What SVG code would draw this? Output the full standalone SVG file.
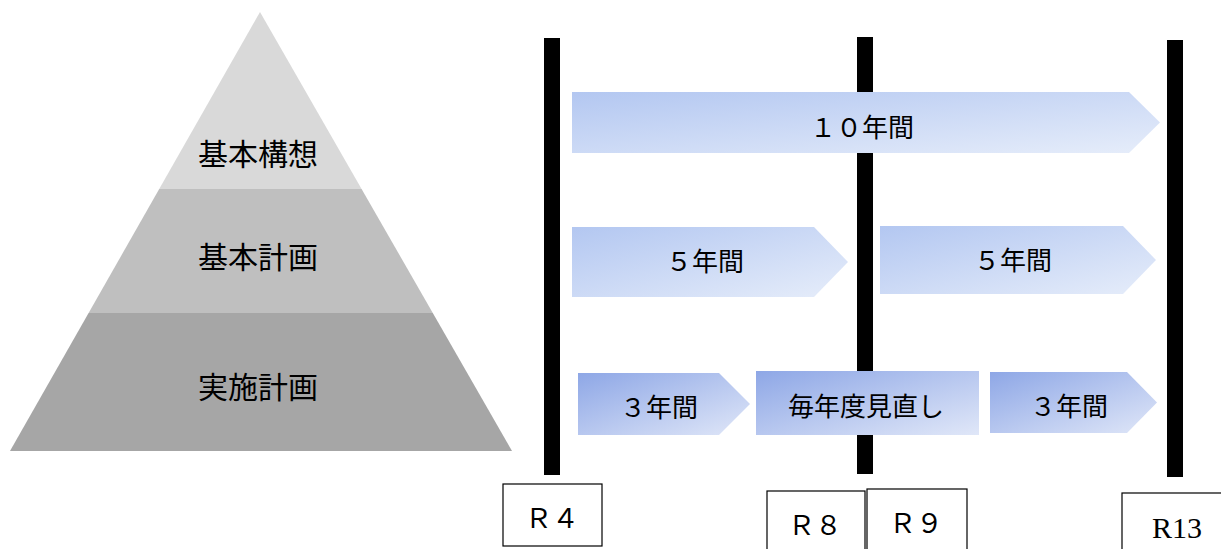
<svg xmlns="http://www.w3.org/2000/svg" width="1221" height="549" viewBox="0 0 1221 549">
<defs>
<linearGradient id="gTop" x1="0" y1="0" x2="1" y2="1">
<stop offset="0" stop-color="#b3c7f1"/>
<stop offset="1" stop-color="#e6edfa"/>
</linearGradient>
<linearGradient id="gBot" x1="0" y1="0" x2="1" y2="1">
<stop offset="0" stop-color="#8ea7e6"/>
<stop offset="1" stop-color="#e0e7f8"/>
</linearGradient>
<style>
.jp{font-family:"Noto Sans CJK JP","Noto Sans",sans-serif;fill:#000;text-anchor:middle}
.pyr{font-size:30px}
.lbl{font-size:26px}
.rl{font-size:27px}
.ser{font-family:"Liberation Serif","Noto Sans CJK JP",serif;font-size:30px;fill:#000;text-anchor:middle}
.bar{fill:#000}
.box{fill:#fff;stroke:#000;stroke-width:1.2}
.at{fill:url(#gTop)}
.ab{fill:url(#gBot)}
</style>
</defs>
<rect width="1221" height="549" fill="#fff"/>
<g id="pyramid">
<g id="kihon-koso">
<polygon points="260,12 159.2,189 361.6,189" fill="#d9d9d9"/>
<text class="jp pyr" x="258" y="165">基本構想</text>
</g>
<g id="kihon-keikaku">
<polygon points="159.2,189 361.6,189 432.8,313 88.6,313" fill="#bfbfbf"/>
<text class="jp pyr" x="258" y="268">基本計画</text>
</g>
<g id="jisshi-keikaku">
<polygon points="88.6,313 432.8,313 512,451 10,451" fill="#a6a6a6"/>
<text class="jp pyr" x="258" y="398">実施計画</text>
</g>
</g>
<g id="connectors">
<rect class="bar" x="544" y="38" width="16" height="437"/>
<rect class="bar" x="857" y="37" width="16" height="437"/>
<rect class="bar" x="1167" y="40" width="16" height="437"/>
</g>
<g id="arrow-10">
<polygon class="at" points="572,92 1129,92 1160,122.5 1129,153 572,153"/>
<text class="jp lbl" x="862" y="137">１０年間</text>
</g>
<g id="arrow-5a">
<polygon class="at" points="572,227 814,227 848,262 814,297 572,297"/>
<text class="jp lbl" x="705" y="271">５年間</text>
</g>
<g id="arrow-5b">
<polygon class="at" points="880,226 1123,226 1156,260 1123,294 880,294"/>
<text class="jp lbl" x="1013" y="270">５年間</text>
</g>
<g id="arrow-3a">
<polygon class="ab" points="578,373 719,373 750,404 719,435 578,435"/>
<text class="jp lbl" x="659" y="417">３年間</text>
</g>
<g id="annual">
<rect class="ab" x="756" y="371" width="223" height="64"/>
<text class="jp lbl" x="866" y="416">毎年度見直し</text>
</g>
<g id="arrow-3b">
<polygon class="ab" points="990,372 1127,372 1157,402.5 1127,433 990,433"/>
<text class="jp lbl" x="1069" y="416">３年間</text>
</g>
<g id="r4">
<rect class="box" x="503" y="484" width="99" height="62"/>
<text class="jp rl" x="552" y="528">Ｒ４</text>
</g>
<g id="r8">
<rect class="box" x="767" y="491" width="98" height="64"/>
<text class="jp rl" x="815" y="535">Ｒ８</text>
</g>
<g id="r9">
<rect class="box" x="867" y="489" width="100" height="66"/>
<text class="jp rl" x="916" y="533">Ｒ９</text>
</g>
<g id="r13">
<rect class="box" x="1122" y="493" width="104" height="62"/>
<text class="ser" x="1177" y="538">R13</text>
</g>
</svg>
